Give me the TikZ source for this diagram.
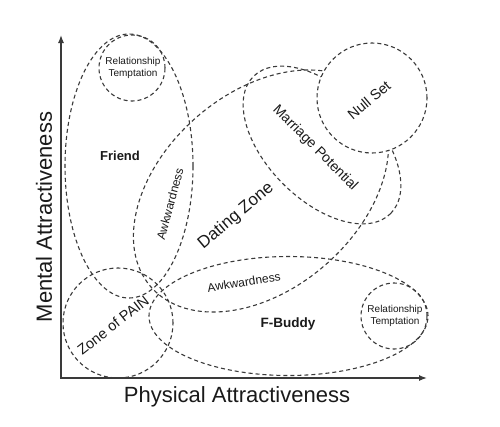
\documentclass[tikz,border=0pt]{standalone}
\usepackage{fontspec}
\setmainfont{Liberation Sans}
\usetikzlibrary{shapes.geometric,arrows.meta}
\definecolor{lc}{HTML}{3A3A3A}
\definecolor{tc}{HTML}{1A1A1A}
\begin{document}
\begin{tikzpicture}[x=1pt,y=-1pt,
  region/.style={draw=lc, dash pattern=on 4pt off 3pt, line width=1.1pt, inner sep=0pt},
  lbl/.style={text=tc, inner sep=0pt, align=center},
  axisline/.style={draw=lc, line width=1.3pt},
  fs/.style={font=\fontsize{#1}{#1}\selectfont},
  ]
\useasboundingbox[fill=white] (0,0) rectangle (500,426);
% regions
\node[region, ellipse, minimum width=128pt, minimum height=264pt] (friend) at (129,166) {};
\node[region, circle, minimum size=66pt] (rtTop) at (132,68) {};
\node[region, ellipse, minimum width=292pt, minimum height=196pt, rotate=41] (dating) at (261,191) {};
\node[region, ellipse, minimum width=194pt, minimum height=110pt, rotate=-45] (marriage) at (322,145) {};
\node[region, circle, fill=white, minimum size=110pt] (nullset) at (372,98) {};
\node[region, ellipse, minimum width=279pt, minimum height=119pt] (fbuddy) at (288.5,316) {};
\node[region, circle, minimum size=66pt] (rtLow) at (394,316) {};
\node[region, circle, minimum size=110pt] (pain) at (118,323) {};
% axes
\coordinate (origin) at (61,378);
\coordinate (ytip) at (61,35);
\coordinate (xtip) at (427,378);
\draw[axisline, {Latex[length=8pt,width=6pt]}-{Latex[length=8pt,width=6pt]}] (ytip) -- (origin) -- (xtip);
% labels
\node[lbl, fs=10, align=center] (rtTopText) at (133,68) {Relationship\\[1.5pt]Temptation};
\node[lbl, fs=13, font=\bfseries\fontsize{13}{13}\selectfont] (friendText) at (120,156) {Friend};
\node[lbl, fs=12, rotate=75] (awk1) at (170,204) {Awkwardness};
\node[lbl, fs=17, rotate=40] (datingText) at (236,216) {Dating Zone};
\node[lbl, fs=14, rotate=-45] (marriageText) at (315,148) {Marriage Potential};
\node[lbl, fs=14.5, rotate=40] (nullText) at (369,100) {Null Set};
\node[lbl, fs=12, rotate=9] (awk2) at (244,282) {Awkwardness};
\node[lbl, font=\bfseries\fontsize{13.5}{13.5}\selectfont] (fbuddyText) at (288,324) {F-Buddy};
\node[lbl, fs=10, align=center] (rtLowText) at (395,316) {Relationship\\[1.5pt]Temptation};
\node[lbl, fs=14.5, rotate=38] (painText) at (113,325) {Zone of PAIN};
\node[lbl, fs=22, rotate=90] (mental) at (44,217) {Mental Attractiveness};
\node[lbl, fs=22] (physical) at (237,397) {Physical Attractiveness};
\end{tikzpicture}
\end{document}
